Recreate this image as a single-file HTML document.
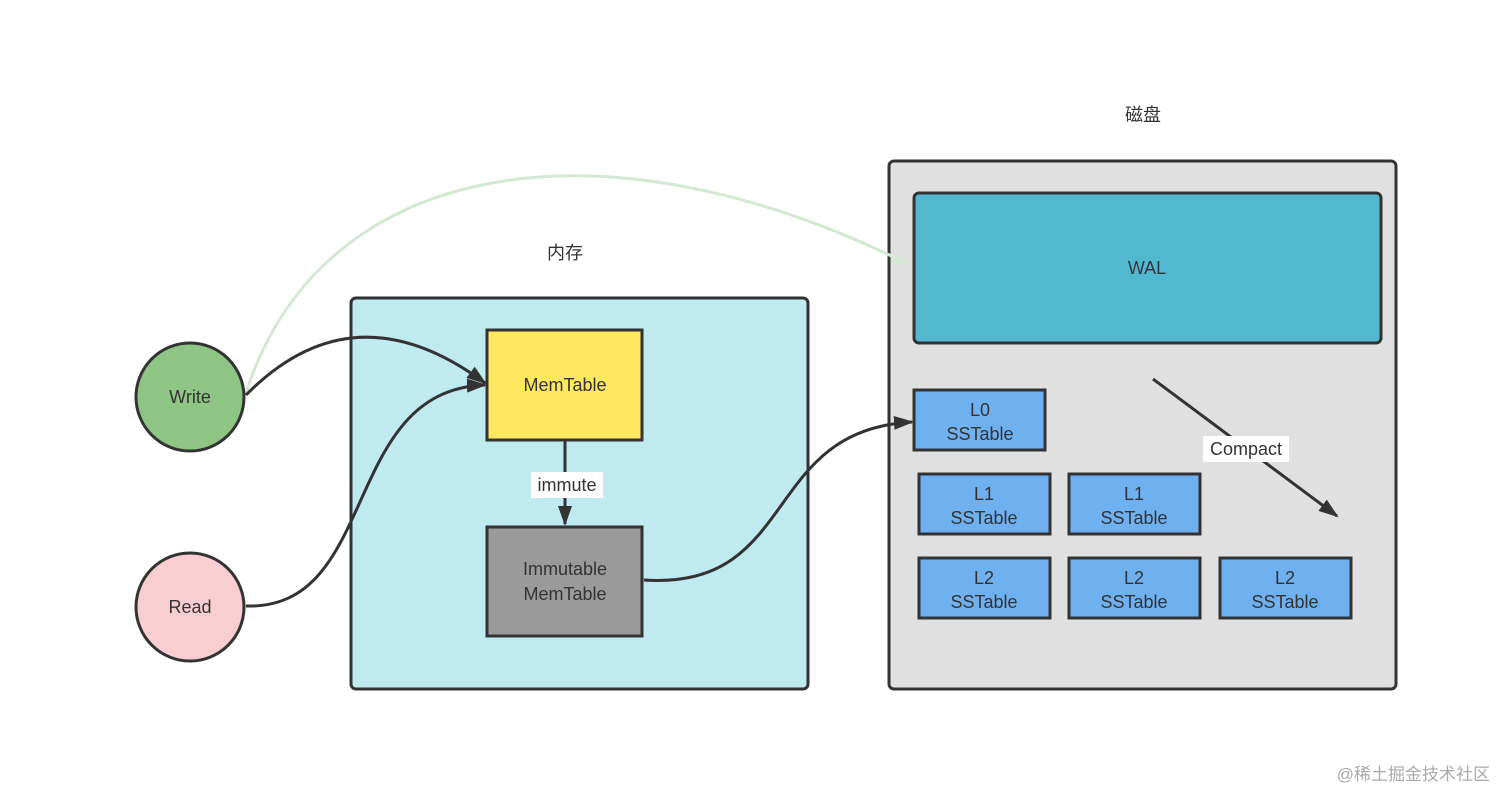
<!DOCTYPE html>
<html><head><meta charset="utf-8"><style>
html,body{margin:0;padding:0;background:#fff;}
svg{display:block;font-family:"Liberation Sans","Noto Sans CJK SC",sans-serif;}
</style></head><body>
<svg width="1512" height="805" viewBox="0 0 1512 805" xmlns="http://www.w3.org/2000/svg">
<defs>
<marker id="ab" viewBox="0 0 10 10" refX="9" refY="5" markerWidth="20" markerHeight="20" markerUnits="userSpaceOnUse" orient="auto"><path d="M0,1.5 L10,5 L0,8.5 z" fill="#333"/></marker>
<marker id="ag" viewBox="0 0 10 10" refX="9" refY="5" markerWidth="18" markerHeight="18" markerUnits="userSpaceOnUse" orient="auto"><path d="M0,1.5 L10,5 L0,8.5 z" fill="#d5e8d4"/></marker>
</defs>
<text x="1143" y="121" font-size="18" fill="#333" text-anchor="middle">磁盘</text>
<text x="565" y="259" font-size="18" fill="#333" text-anchor="middle">内存</text>
<rect x="351" y="298" width="457" height="391" rx="5" fill="#bfeaf0" stroke="#333" stroke-width="3"/>
<rect x="889" y="161" width="507" height="528" rx="5" fill="#e0e0e0" stroke="#333" stroke-width="3"/>
<rect x="914" y="193" width="467" height="150" rx="5" fill="#52b8d0" stroke="#333" stroke-width="3"/>
<text x="1147" y="274" font-size="18" fill="#333" text-anchor="middle">WAL</text>
<path d="M246,393 C320,160 600,110 910,265" fill="none" stroke="#d5e8d4" stroke-width="3" marker-end="url(#ag)"/>
<ellipse cx="190" cy="397" rx="54" ry="54" fill="#8fc584" stroke="#333" stroke-width="3"/>
<text x="190" y="403" font-size="18" fill="#333" text-anchor="middle">Write</text>
<ellipse cx="190" cy="607" rx="54" ry="54" fill="#f8ced3" stroke="#333" stroke-width="3"/>
<text x="190" y="613" font-size="18" fill="#333" text-anchor="middle">Read</text>
<rect x="487" y="330" width="155" height="110" fill="#fee85f" stroke="#333" stroke-width="3"/>
<text x="565" y="391" font-size="18" fill="#333" text-anchor="middle">MemTable</text>
<rect x="487" y="527" width="155" height="109" fill="#9a9a9a" stroke="#333" stroke-width="3"/>
<text x="565" y="575" font-size="18" fill="#333" text-anchor="middle">Immutable</text>
<text x="565" y="600" font-size="18" fill="#333" text-anchor="middle">MemTable</text>
<path d="M246,395 C320,320 400,320 485,383" fill="none" stroke="#333" stroke-width="3" marker-end="url(#ab)"/>
<path d="M246,606 C380,610 340,390 485,385" fill="none" stroke="#333" stroke-width="3" marker-end="url(#ab)"/>
<path d="M565,441 L565,524" fill="none" stroke="#333" stroke-width="3" marker-end="url(#ab)"/>
<rect x="531" y="472" width="72" height="26" fill="#fff"/>
<text x="567" y="491" font-size="18" fill="#333" text-anchor="middle">immute</text>
<path d="M644,580 C800,590 760,430 912,422" fill="none" stroke="#333" stroke-width="3" marker-end="url(#ab)"/>
<path d="M1153,379 L1337,516" fill="none" stroke="#333" stroke-width="3" marker-end="url(#ab)"/>
<rect x="1203" y="436" width="86" height="26" fill="#fff"/>
<text x="1246" y="455" font-size="18" fill="#333" text-anchor="middle">Compact</text>
<g font-size="18" fill="#333" text-anchor="middle">
<rect x="914" y="390" width="131" height="60" fill="#6eb0f0" stroke="#333" stroke-width="3"/>
<text x="980" y="416">L0</text><text x="980" y="440">SSTable</text>
<rect x="919" y="474" width="131" height="60" fill="#6eb0f0" stroke="#333" stroke-width="3"/>
<text x="984" y="500">L1</text><text x="984" y="524">SSTable</text>
<rect x="1069" y="474" width="131" height="60" fill="#6eb0f0" stroke="#333" stroke-width="3"/>
<text x="1134" y="500">L1</text><text x="1134" y="524">SSTable</text>
<rect x="919" y="558" width="131" height="60" fill="#6eb0f0" stroke="#333" stroke-width="3"/>
<text x="984" y="584">L2</text><text x="984" y="608">SSTable</text>
<rect x="1069" y="558" width="131" height="60" fill="#6eb0f0" stroke="#333" stroke-width="3"/>
<text x="1134" y="584">L2</text><text x="1134" y="608">SSTable</text>
<rect x="1220" y="558" width="131" height="60" fill="#6eb0f0" stroke="#333" stroke-width="3"/>
<text x="1285" y="584">L2</text><text x="1285" y="608">SSTable</text>
</g>
<text x="1490" y="780" font-size="17" fill="#aaa" text-anchor="end">@稀土掘金技术社区</text>
</svg>
</body></html>
